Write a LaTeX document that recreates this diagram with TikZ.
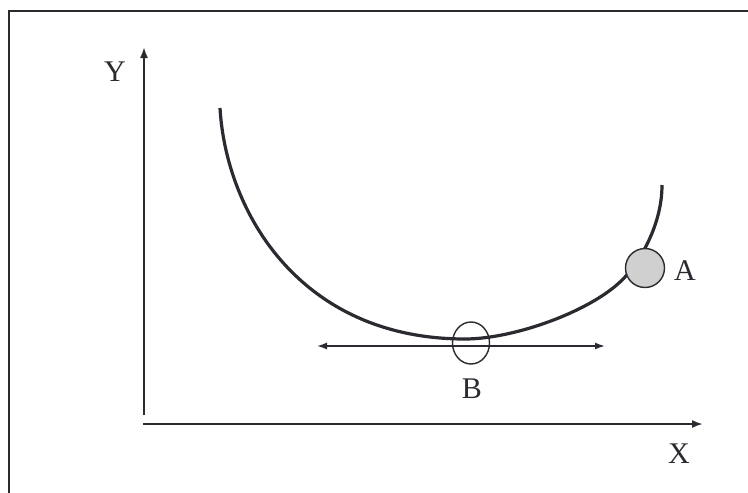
\documentclass[tikz,border=0pt]{standalone}
\usepackage{fontspec}
\setmainfont{Liberation Serif}
\usetikzlibrary{arrows.meta,shapes.geometric}
\definecolor{ink}{HTML}{2A2A30}
\tikzset{
  lbl/.style={text=ink,font=\fontsize{30}{32}\selectfont,inner sep=0pt},
  axis/.style={draw=ink,line width=1.9pt,-{Latex[length=11pt,width=8pt]}},
  curve/.style={draw=ink,line width=3.2pt},
  marker/.style={draw=ink,line width=1.4pt},
}
\begin{document}
\begin{tikzpicture}[x=1pt,y=-1pt]
\useasboundingbox (0,0) rectangle (748,493);
\fill[white] (0,0) rectangle (748,493);
% frame
\draw[ink,line width=2pt] (9,500) -- (9,11) -- (760,11);
% axes
\coordinate (O) at (144,415);
\coordinate (Ytip) at (144,47);
\coordinate (X0) at (143,424);
\coordinate (Xtip) at (703,424);
\draw[axis] (O) -- (Ytip);
\draw[axis] (X0) -- (Xtip);
\node[lbl] (Y) at (115,72) {Y};
\node[lbl] (X) at (679,454) {X};
% curve
\coordinate (C0) at (220,108);
\coordinate (Cb) at (465,339);
\coordinate (Cm) at (625,277);
\coordinate (C1) at (662,185);
\draw[curve] (C0) .. controls (226,212) and (300,339) .. (Cb)
  .. controls (515,339) and (595,310) .. (Cm)
  .. controls (640,260.5) and (662,225) .. (C1);
% markers
\node[marker,circle,fill=ink!22,minimum size=39pt,inner sep=0pt] (A) at (645,268) {};
\node[marker,ellipse,minimum width=37pt,minimum height=42pt,inner sep=0pt] (B) at (471,343) {};
\coordinate (L) at (317,346);
\coordinate (R) at (605,346);
\draw[draw=ink,line width=1.6pt,{Latex[length=10pt,width=7pt]}-{Latex[length=10pt,width=7pt]}] (L) -- (R);
\node[lbl] (Alab) at (685,271) {A};
\node[lbl] (Blab) at (472,389) {B};
\end{tikzpicture}
\end{document}
